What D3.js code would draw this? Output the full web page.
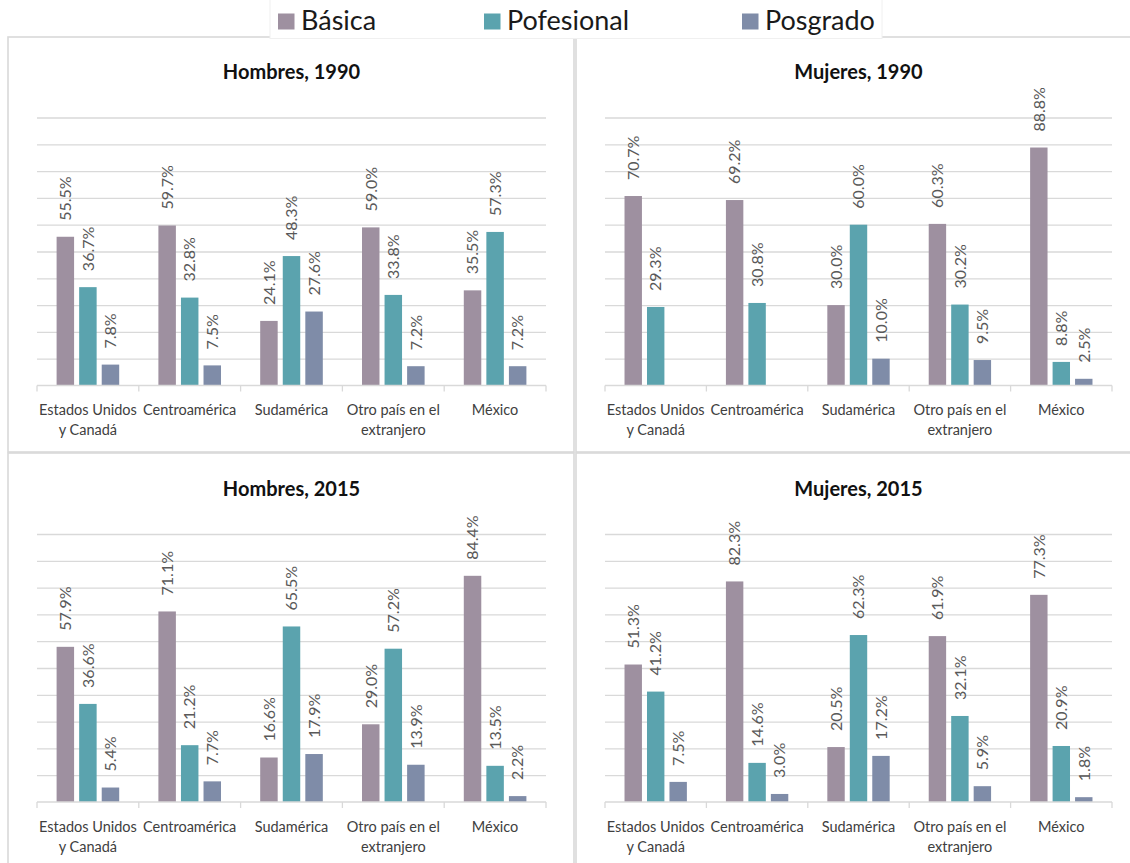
<!DOCTYPE html>
<html>
<head>
<meta charset="utf-8">
<script src="https://cdn.jsdelivr.net/npm/d3@7"></script>
<style>
  body { margin: 0; background: #fff; }
  svg { display: block; }
  text { font-family: Lato, "Open Sans", sans-serif; }
</style>
</head>
<body>
<svg id="chart" width="1130" height="863"></svg>
<script>
// Region of origin (x categories) and the wrapped tick labels drawn under the axis
const categories = ["Estados Unidos y Canadá", "Centroamérica", "Sudamérica", "Otro país en el extranjero", "México"];
const categoryLines = [["Estados Unidos", "y Canadá"], ["Centroamérica"], ["Sudamérica"], ["Otro país en el", "extranjero"], ["México"]];

// Schooling level series
const series = ["Básica", "Pofesional", "Posgrado"];
const seriesColors = ["#9e90a0", "#5ba3ae", "#7f8ca8"];

// Percent values per panel: one row per series, one column per category (null = no bar)
const hombres1990Basica     = [55.5, 59.7, 24.1, 59.0, 35.5];
const hombres1990Pofesional = [36.7, 32.8, 48.3, 33.8, 57.3];
const hombres1990Posgrado   = [7.8, 7.5, 27.6, 7.2, 7.2];

const mujeres1990Basica     = [70.7, 69.2, 30.0, 60.3, 88.8];
const mujeres1990Pofesional = [29.3, 30.8, 60.0, 30.2, 8.8];
const mujeres1990Posgrado   = [null, null, 10.0, 9.5, 2.5];

const hombres2015Basica     = [57.9, 71.1, 16.6, 29.0, 84.4];
const hombres2015Pofesional = [36.6, 21.2, 65.5, 57.2, 13.5];
const hombres2015Posgrado   = [5.4, 7.7, 17.9, 13.9, 2.2];

const mujeres2015Basica     = [51.3, 82.3, 20.5, 61.9, 77.3];
const mujeres2015Pofesional = [41.2, 14.6, 62.3, 32.1, 20.9];
const mujeres2015Posgrado   = [7.5, 3.0, 17.2, 5.9, 1.8];

const panelTitles = ["Hombres, 1990", "Mujeres, 1990", "Hombres, 2015", "Mujeres, 2015"];
const yTicks = [0, 10, 20, 30, 40, 50, 60, 70, 80, 90, 100];

const panelValues = [
  [hombres1990Basica, hombres1990Pofesional, hombres1990Posgrado],
  [mujeres1990Basica, mujeres1990Pofesional, mujeres1990Posgrado],
  [hombres2015Basica, hombres2015Pofesional, hombres2015Posgrado],
  [mujeres2015Basica, mujeres2015Pofesional, mujeres2015Posgrado]
];

// Layout of the 2x2 grid: outer frame and inner plot area of each panel
const panelLayout = [
  { frame: [8, 37, 566, 415],   plot: [37, 546, 117.5, 385.5], titleY: 79 },
  { frame: [576, 37, 560, 415], plot: [605, 1112, 117.5, 385.5], titleY: 79 },
  { frame: [8, 453, 566, 420],  plot: [37, 546, 534, 802], titleY: 496 },
  { frame: [576, 453, 560, 420], plot: [605, 1112, 534, 802], titleY: 496 }
];

const svg = d3.select("#chart");
const gridColor = "#d9d9d9";
const fmt = d3.format(".1f");

panelLayout.forEach((layout, i) => {
  const g = svg.append("g");
  const [fx, fy, fw, fh] = layout.frame;
  const [px0, px1, py0, py1] = layout.plot;

  g.append("rect")
    .attr("x", fx).attr("y", fy).attr("width", fw).attr("height", fh)
    .attr("fill", "#fff").attr("stroke", gridColor).attr("stroke-width", 1.6);

  const x0 = d3.scaleBand().domain(categories).range([px0, px1])
    .paddingInner(0.385).paddingOuter(0.1925);
  const x1 = d3.scaleBand().domain(series).range([0, x0.bandwidth()]).paddingInner(0.225);
  const y = d3.scaleLinear().domain([0, 100]).range([py1, py0]);

  // Horizontal gridlines
  const grid = g.append("g").attr("transform", `translate(${px0},0)`)
    .call(d3.axisLeft(y).tickValues(yTicks.slice(1)).tickSize(-(px1 - px0)).tickFormat(""));
  grid.select(".domain").remove();
  grid.selectAll(".tick line").attr("stroke", gridColor).attr("stroke-width", 1.3);

  // Title
  g.append("text")
    .attr("x", (px0 + px1) / 2).attr("y", layout.titleY)
    .attr("text-anchor", "middle")
    .attr("font-weight", 700).attr("font-size", 20).attr("fill", "#111")
    .text(panelTitles[i]);

  // Bars
  const values = panelValues[i];
  series.forEach((s, si) => {
    const rows = categories.map((c, ci) => ({ c, v: values[si][ci] })).filter(d => d.v !== null);
    g.selectAll(null).data(rows).join("rect")
      .attr("x", d => x0(d.c) + x1(s))
      .attr("y", d => y(d.v))
      .attr("width", x1.bandwidth())
      .attr("height", d => y(0) - y(d.v))
      .attr("fill", seriesColors[si]);

    g.selectAll(null).data(rows).join("text")
      .attr("transform", d => `translate(${x0(d.c) + x1(s) + x1.bandwidth() / 2},${y(d.v) - 16}) rotate(-90)`)
      .attr("dy", "0.36em")
      .attr("text-anchor", "start")
      .attr("font-size", 16)
      .attr("fill", "#595959")
      .text(d => fmt(d.v) + "%");
  });

  // Category axis with ticks on the band boundaries
  const half = (x0.step() - x0.bandwidth()) / 2;
  const bounds = categories.map(c => x0(c) - half).concat([x0(categories[categories.length - 1]) + x0.bandwidth() + half]);
  g.append("line")
    .attr("x1", px0).attr("x2", px1).attr("y1", y(0)).attr("y2", y(0))
    .attr("stroke", gridColor).attr("stroke-width", 1.3);
  g.selectAll(null).data(bounds).join("line")
    .attr("x1", d => d).attr("x2", d => d)
    .attr("y1", y(0)).attr("y2", y(0) + 6)
    .attr("stroke", gridColor).attr("stroke-width", 1.3);

  const labels = g.selectAll(null).data(categories).join("text")
    .attr("text-anchor", "middle")
    .attr("font-size", 14.5)
    .attr("fill", "#404040");
  labels.each(function (c, ci) {
    d3.select(this).selectAll("tspan").data(categoryLines[ci]).join("tspan")
      .attr("x", x0(c) + x0.bandwidth() / 2)
      .attr("y", (d, li) => y(0) + 29.5 + li * 20)
      .text(d => d);
  });
});

// Legend on top, over the frame edge
const legendX = [278, 484, 742];
svg.append("rect")
  .attr("x", 270).attr("y", -1).attr("width", 612).attr("height", 39.5)
  .attr("fill", "#fff").attr("stroke", "#f0f0f0").attr("stroke-width", 1);
const legend = svg.selectAll(".legend").data(series).join("g")
  .attr("class", "legend")
  .attr("transform", (d, i) => `translate(${legendX[i]},0)`);
legend.append("rect")
  .attr("x", 0).attr("y", 13.5).attr("width", 16.5).attr("height", 16)
  .attr("fill", (d, i) => seriesColors[i]);
legend.append("text")
  .attr("x", 23).attr("y", 30)
  .attr("font-size", 27).attr("fill", "#1a1a1a")
  .text(d => d);
</script>
</body>
</html>
